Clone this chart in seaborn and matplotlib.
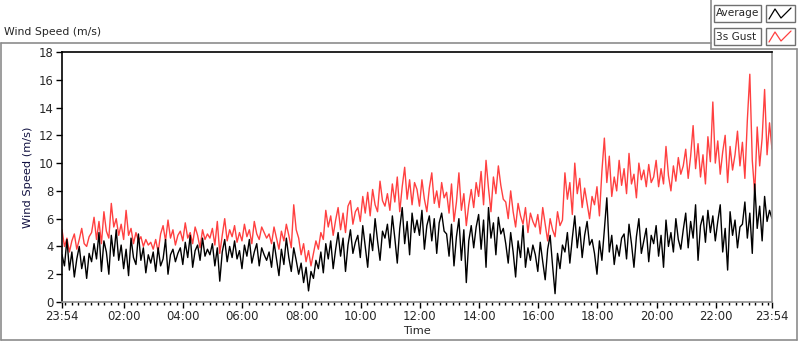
import numpy as np
import pandas as pd
import seaborn as sns
import matplotlib.pyplot as plt
from matplotlib.lines import Line2D
from matplotlib.patches import Rectangle

# 5-minute samples, hours after 23:54 (one row per hour)
average = [
    3.4, 2.6, 4.5, 2.3, 3.6, 1.8, 3.1, 4.0, 2.4, 3.3, 1.7, 3.5,
    2.9, 4.2, 3.1, 5.0, 2.2, 4.4, 3.6, 2.0, 4.8, 3.3, 5.2, 3.0,
    4.1, 2.4, 3.8, 1.9, 4.6, 3.2, 2.7, 4.9, 3.0, 3.9, 2.1, 3.4,
    2.8, 3.6, 2.2, 3.9, 2.6, 3.1, 4.5, 2.0, 3.4, 3.8, 2.9, 3.5,
    3.9, 2.7, 4.3, 3.2, 4.8, 2.5, 3.7, 4.1, 3.0, 4.6, 3.3, 3.8,
    3.4, 4.2, 2.6, 3.9, 1.5, 3.6, 4.5, 2.9, 4.0, 3.2, 4.4, 3.1,
    3.7, 2.4, 4.1, 3.3, 4.5, 2.8, 3.6, 4.2, 2.6, 3.9, 3.4, 3.0,
    3.6, 2.5, 4.3, 3.1, 1.9, 3.8, 2.7, 4.6, 3.2, 2.2, 3.9, 3.0,
    2.0, 2.8, 1.4, 2.5, 0.8, 2.2, 1.7, 3.0, 2.4, 3.6, 2.1, 4.2,
    3.1, 4.4, 2.4, 3.8, 5.0, 3.3, 4.6, 2.2, 4.1, 5.2, 3.5, 4.3,
    4.8, 3.2, 5.5, 4.0, 2.5, 4.9, 3.7, 6.0, 4.4, 3.0, 5.1, 4.6,
    5.6, 3.9, 6.2, 4.6, 2.8, 5.3, 6.8, 4.2, 5.8, 3.4, 6.4, 5.0,
    5.9, 4.8, 6.6, 3.8, 5.5, 6.2, 4.4, 6.0, 3.5, 5.7, 6.4, 5.1,
    4.9, 3.3, 5.6, 2.6, 4.7, 6.0, 3.0, 5.2, 1.4, 4.4, 5.5, 3.9,
    5.4, 6.3, 3.8, 5.9, 2.5, 6.8, 4.6, 5.7, 3.4, 6.1, 4.9, 5.3,
    4.2, 2.8, 5.0, 3.6, 1.8, 4.4, 3.2, 5.5, 2.5, 3.9, 3.0, 4.1,
    3.4, 2.2, 4.3, 2.9, 1.6, 3.8, 4.8, 2.6, 0.6, 3.5, 2.4, 4.1,
    3.6, 5.0, 2.8, 4.6, 6.2, 3.9, 5.4, 3.2, 4.8, 5.8, 4.1, 4.5,
    3.5, 2.0, 4.4, 3.0, 5.2, 7.5, 3.6, 4.8, 2.7, 4.1, 3.3, 4.6,
    4.9, 3.1, 5.6, 4.2, 2.5, 4.7, 6.0, 3.5, 4.4, 5.3, 2.9, 4.8,
    4.2, 5.5, 3.3, 4.8, 2.5, 5.9, 4.0, 5.0, 3.6, 6.0, 4.5, 3.8,
    5.2, 6.4, 3.9, 5.8, 4.6, 7.0, 3.0, 5.5, 6.2, 4.3, 6.6, 5.0,
    6.2, 4.4, 5.8, 7.0, 3.6, 5.3, 2.3, 6.5, 4.8, 5.9, 3.9, 5.4,
    5.6, 7.2, 4.6, 6.4, 3.5, 8.5, 5.3, 6.9, 4.4, 7.6, 5.8, 6.6,
    6.0,
]

gust = [
    5.2, 4.0, 4.6, 3.6, 4.4, 4.9, 3.8, 4.5, 5.3, 4.2, 4.0, 4.7,
    5.0, 6.1, 4.5, 5.8, 4.2, 6.5, 5.1, 4.6, 7.1, 5.4, 6.0, 4.8,
    5.6, 4.5, 6.6, 4.8, 5.3, 4.2, 5.0, 4.4, 4.7, 4.0, 4.5, 4.1,
    4.3, 3.8, 4.5, 3.6, 4.9, 5.5, 4.4, 5.9, 4.6, 5.2, 4.1, 4.8,
    5.1, 4.4, 5.7, 4.6, 5.0, 4.2, 5.4, 4.8, 3.9, 5.2, 4.5, 4.9,
    4.6, 5.3, 4.1, 5.8, 3.5, 4.8, 6.0, 4.4, 5.2, 4.7, 5.5, 4.3,
    5.0, 4.4, 5.6, 4.7, 5.2, 4.2, 5.8, 4.9, 4.5, 5.4, 5.0, 4.6,
    4.9, 4.2, 5.4, 4.6, 3.8, 5.1, 4.4, 5.6, 4.8, 3.9, 7.0, 5.2,
    4.6, 3.4, 4.2, 2.9, 3.7, 2.6, 3.5, 4.4, 3.8, 5.0, 4.5, 6.6,
    5.4, 6.2, 4.8, 5.9, 6.8, 5.2, 6.4, 5.0, 6.9, 7.3, 5.6, 6.5,
    6.8, 5.8, 7.6, 6.4, 7.9, 6.2, 8.1, 7.0, 6.5, 8.7, 7.3, 6.9,
    7.8, 6.6, 8.5, 7.2, 9.0, 6.5, 8.3, 9.7, 7.4, 8.8, 7.0, 8.6,
    8.1, 6.9, 8.8, 7.4, 6.5, 8.2, 9.3, 7.1, 8.0, 6.8, 8.6, 7.5,
    7.9, 6.4, 8.5, 5.8, 7.2, 9.3, 6.6, 7.8, 5.5, 7.0, 8.1, 6.8,
    8.6, 7.6, 9.4, 7.0, 10.2, 8.2, 6.5, 9.0, 7.8, 9.8, 8.4, 7.4,
    7.2, 6.0, 8.0, 6.5, 5.4, 7.1, 6.2, 5.6, 6.8, 5.0, 6.4, 5.8,
    5.4, 6.3, 4.9, 6.8, 5.6, 4.4, 6.0, 5.2, 4.7, 6.5, 5.5, 5.9,
    9.3, 7.4, 8.6, 6.3, 10.0, 7.8, 8.9, 6.8, 8.2, 7.1, 6.0, 7.6,
    7.0, 8.3, 6.2, 9.4, 11.8, 8.6, 10.5, 7.6, 9.0, 8.0, 10.2, 8.4,
    9.6, 7.8, 10.7, 8.5, 9.2, 7.5, 10.0, 8.8, 9.5, 8.3, 9.9, 8.6,
    9.0, 10.2, 8.3, 9.6, 8.5, 11.2, 9.1, 8.0, 9.8, 8.7, 10.4, 9.2,
    9.8, 11.0, 8.9, 10.5, 12.7, 9.6, 11.4, 9.0, 10.6, 8.5, 11.9, 10.1,
    14.4, 10.0, 11.6, 9.2, 10.8, 12.0, 8.6, 11.2, 9.5, 10.6, 12.3, 9.8,
    11.5, 8.9, 13.1, 16.4, 10.2, 7.8, 12.6, 9.8, 11.8, 15.3, 10.6, 12.9,
    11.0,
]

hours = np.arange(len(average)) * 5 / 60.0
tick_labels = ['23:54', '02:00', '04:00', '06:00', '08:00', '10:00', '12:00',
               '14:00', '16:00', '18:00', '20:00', '22:00', '23:54']

df = pd.DataFrame({'Time': np.concatenate([hours, hours]),
                   'Wind': np.concatenate([gust, average]),
                   'Series': ['3s Gust'] * len(hours) + ['Average'] * len(hours)})

sns.set_style('white')
plt.rcParams['font.family'] = ['DejaVu Sans']
fs = 7.8

fig = plt.figure(figsize=(8, 3.42), dpi=100)
ax = fig.add_axes([62 / 800, 1 - 302 / 342, 710 / 800, 250 / 342])

sns.lineplot(data=df, x='Time', y='Wind', hue='Series',
             palette={'3s Gust': '#ff4040', 'Average': 'black'},
             linewidth=1.0, legend=False, ax=ax)

ax.set_xlim(0, 24)
ax.set_ylim(0, 18)
ax.set_yticks(range(0, 19, 2))
major = [0] + [0.1 + 2 * k for k in range(1, 12)] + [24]
ax.set_xticks(major)
ax.set_xticklabels(tick_labels)
ax.set_xticks([0.1 + k * 2 / 9 for k in range(0, 108) if 0.1 + k * 2 / 9 < 24], minor=True)
ax.tick_params(axis='both', labelsize=8.4, direction='out', length=4, width=1,
               color='black', bottom=True, left=True, pad=2)
ax.tick_params(axis='x', which='minor', length=2.5, width=1, color='black', bottom=True)
ax.set_xlabel('Time', fontsize=8.2, labelpad=2)
ax.set_ylabel('Wind Speed (m/s)', fontsize=8.2, labelpad=4, color='#101040')

for side in ['left', 'top']:
    ax.spines[side].set_color('black')
    ax.spines[side].set_linewidth(1.2)
for side in ['right', 'bottom']:
    ax.spines[side].set_color('#909090')
    ax.spines[side].set_linewidth(1.2)

# outer panel frame
def fig_line(x0, y0, x1, y1, color='#8c8c8c', lw=1.2):
    fig.add_artist(Line2D([x0 / 800, x1 / 800], [1 - y0 / 342, 1 - y1 / 342],
                          color=color, linewidth=lw, transform=fig.transFigure))

fig_line(0.5, 42.5, 711, 42.5)
fig_line(0.5, 42.5, 0.5, 340)
fig_line(0.5, 340, 797, 340)
fig_line(797, 49, 797, 340)
fig_line(711, 0, 711, 49)
fig_line(711, 49, 797, 49)

fig.text(4 / 800, 1 - 32 / 342, 'Wind Speed (m/s)', fontsize=fs, va='center', ha='left')

# legend boxes
for i, (name, col) in enumerate([('Average', 'black'), ('3s Gust', '#ff4040')]):
    y_top = 5 + i * 23
    fig.add_artist(Rectangle((714 / 800, 1 - (y_top + 17) / 342), 47 / 800, 17 / 342,
                             transform=fig.transFigure, fill=False,
                             edgecolor='#707070', linewidth=1))
    fig.text(716 / 800, 1 - (y_top + 8.5) / 342, name, fontsize=7.6, va='center', ha='left')
    fig.add_artist(Rectangle((766 / 800, 1 - (y_top + 17) / 342), 29 / 800, 17 / 342,
                             transform=fig.transFigure, fill=False,
                             edgecolor='#707070', linewidth=1))
    gx = np.array([769, 775, 781, 791]) / 800
    gy = 1 - (y_top + np.array([14, 4, 13, 3])) / 342
    fig.add_artist(Line2D(gx, gy, color=col, linewidth=0.9, transform=fig.transFigure))

fig.savefig('out.png', dpi=100)
